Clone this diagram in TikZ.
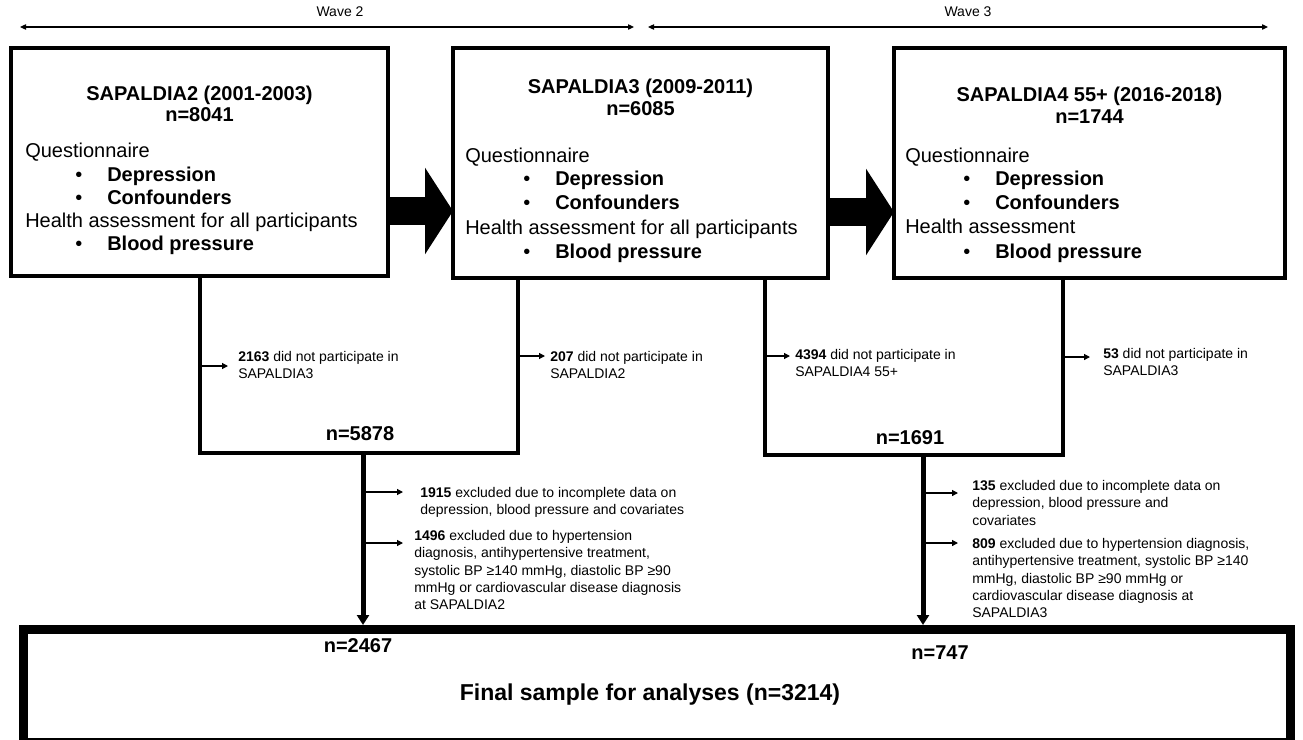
\documentclass[tikz,border=0pt]{standalone}
\usepackage{fontspec}
\setmainfont{Liberation Sans}
\usetikzlibrary{arrows.meta,fit,calc}
\begin{document}
\begin{tikzpicture}[x=0.75pt,y=-0.75pt,
  frame/.style={draw, line width=3pt, inner sep=0pt, outer sep=0pt},
  frameline/.style={line width=3pt},
  titlet/.style={font=\fontsize{15}{18}\selectfont\bfseries, anchor=base, inner sep=0pt},
  bodyt/.style={font=\fontsize{15}{18}\selectfont, anchor=base west, inner sep=0pt},
  itemt/.style={font=\fontsize{15}{18}\selectfont\bfseries, anchor=base west, inner sep=0pt},
  nlab/.style={font=\fontsize{15}{18}\selectfont\bfseries, anchor=base, inner sep=0pt},
  smallt/.style={font=\fontsize{10.5}{13}\selectfont, align=left, anchor=north west, inner sep=0pt},
  wavet/.style={font=\fontsize{10.5}{12}\selectfont, inner sep=0pt},
  sarrow/.style={-{Triangle[length=4.5pt,width=4.5pt]}, line width=0.9pt},
  varrow/.style={-{Triangle[length=7.5pt,width=9pt]}, line width=3.75pt},
  warrow/.style={{Triangle[length=4.5pt,width=4pt]}-{Triangle[length=4.5pt,width=4pt]}, line width=0.9pt},
  bigarrow/.style={-{Triangle[length=21pt,width=64pt]}, line width=21pt}
]
\useasboundingbox (0,0) rectangle (1303,739);

% wave arrows
\coordinate (w2l) at (20,27); \coordinate (w2r) at (634,27);
\coordinate (w3l) at (648,27); \coordinate (w3r) at (1268,27);
\draw[warrow] (w2l) -- (w2r);
\draw[warrow] (w3l) -- (w3r);
\node[wavet] (wave2) at (340,12) {Wave 2};
\node[wavet] (wave3) at (968,12) {Wave 3};

% upper boxes
\node[frame, fit={(11,48) (388,276)}] (b1) {};
\node[frame, fit={(453,48) (828,278)}] (b2) {};
\node[frame, fit={(894,48) (1285,278)}] (b3) {};

% box 1 text
\node[titlet] (b1t) at (199.5,100) {SAPALDIA2 (2001-2003)};
\node[titlet] (b1n) at (199.5,121) {n=8041};
\node[bodyt] (b1q) at (25,157) {Questionnaire};
\node[itemt] (b1d) at (75,181) {\makebox[24pt][l]{\mdseries\textbullet}Depression};
\node[itemt] (b1c) at (75,204) {\makebox[24pt][l]{\mdseries\textbullet}Confounders};
\node[bodyt] (b1h) at (25,227) {Health assessment for all participants};
\node[itemt] (b1b) at (75,250) {\makebox[24pt][l]{\mdseries\textbullet}Blood pressure};

% box 2 text
\node[titlet] (b2t) at (640.5,93) {SAPALDIA3 (2009-2011)};
\node[titlet] (b2n) at (640.5,115) {n=6085};
\node[bodyt] (b2q) at (465,162) {Questionnaire};
\node[itemt] (b2d) at (523,185) {\makebox[24pt][l]{\mdseries\textbullet}Depression};
\node[itemt] (b2c) at (523,209) {\makebox[24pt][l]{\mdseries\textbullet}Confounders};
\node[bodyt] (b2h) at (465,234) {Health assessment for all participants};
\node[itemt] (b2b) at (523,258) {\makebox[24pt][l]{\mdseries\textbullet}Blood pressure};

% box 3 text
\node[titlet] (b3t) at (1089.5,101) {SAPALDIA4 55+ (2016-2018)};
\node[titlet] (b3n) at (1089.5,123) {n=1744};
\node[bodyt] (b3q) at (905,162) {Questionnaire};
\node[itemt] (b3d) at (963,185) {\makebox[24pt][l]{\mdseries\textbullet}Depression};
\node[itemt] (b3c) at (963,209) {\makebox[24pt][l]{\mdseries\textbullet}Confounders};
\node[bodyt] (b3h) at (905,233) {Health assessment};
\node[itemt] (b3b) at (963,258) {\makebox[24pt][l]{\mdseries\textbullet}Blood pressure};

% big arrows between boxes
\coordinate (m1) at ($(b1.east)+(0,49)$);
\coordinate (m2) at ($(b2.east)+(0,49)$);
\draw[bigarrow] (m1) -- (m1 -| b2.west);
\draw[bigarrow] (m2) -- (m2 -| b3.west);

% lower box A
\coordinate (Abl) at (200,453); \coordinate (Abr) at (518,453);
\draw[frameline] (b1.south -| Abl) -- (Abl) -- (Abr) -- (b2.south -| Abr);
\node[nlab] (nA) at (360,440) {n=5878};
\node[smallt] (t2163) at (238,351) {\textbf{2163} did not participate in\\SAPALDIA3};
\coordinate (e2163) at (228,366);
\draw[sarrow] (e2163 -| Abl) -- (e2163);
\node[smallt] (t207) at (550,351) {\textbf{207} did not participate in\\SAPALDIA2};
\coordinate (e207) at (545,356);
\draw[sarrow] (e207 -| Abr) -- (e207);

% lower box B
\coordinate (Bbl) at (765,455); \coordinate (Bbr) at (1063,455);
\draw[frameline] (b2.south -| Bbl) -- (Bbl) -- (Bbr) -- (b3.south -| Bbr);
\node[nlab] (nB) at (910,444) {n=1691};
\node[smallt] (t4394) at (795,349) {\textbf{4394} did not participate in\\SAPALDIA4 55+};
\coordinate (e4394) at (790,356);
\draw[sarrow] (e4394 -| Bbl) -- (e4394);
\node[smallt] (t53) at (1103,348) {\textbf{53} did not participate in\\SAPALDIA3};
\coordinate (e53) at (1090,357);
\draw[sarrow] (e53 -| Bbr) -- (e53);

% final box
\node[draw, line width=6.75pt, inner sep=0pt, outer sep=3.375pt, fit={(23.5,629.5) (1290.5,742.5)}] (fin) {};
\node[nlab] (nf1) at (358,652) {n=2467};
\node[nlab] (nf2) at (940,659) {n=747};
\node[font=\fontsize{17.25}{20}\selectfont\bfseries, anchor=base, inner sep=0pt] (final) at (650,700) {Final sample for analyses (n=3214)};

% vertical arrows
\coordinate (dA) at (363,453);
\coordinate (dB) at (923,455);
\draw[varrow] (dA) -- (dA |- fin.north);
\draw[varrow] (dB) -- (dB |- fin.north);

% exclusions A
\coordinate (e1915) at (403,492);
\draw[sarrow] (e1915 -| dA) -- (e1915);
\node[smallt] (t1915) at (420,487) {\textbf{1915} excluded due to incomplete data on\\depression, blood pressure and covariates};
\coordinate (e1496) at (403,543);
\draw[sarrow] (e1496 -| dA) -- (e1496);
\node[smallt] (t1496) at (414,530) {\textbf{1496} excluded due to hypertension\\diagnosis, antihypertensive treatment,\\systolic BP ≥140 mmHg, diastolic BP ≥90\\mmHg or cardiovascular disease diagnosis\\at SAPALDIA2};

% exclusions B
\coordinate (e135) at (958,493);
\draw[sarrow] (e135 -| dB) -- (e135);
\node[smallt] (t135) at (972,480) {\textbf{135} excluded due to incomplete data on\\depression, blood pressure and\\covariates};
\coordinate (e809) at (958,543);
\draw[sarrow] (e809 -| dB) -- (e809);
\node[smallt] (t809) at (972,538) {\textbf{809} excluded due to hypertension diagnosis,\\antihypertensive treatment, systolic BP ≥140\\mmHg, diastolic BP ≥90 mmHg or\\cardiovascular disease diagnosis at\\SAPALDIA3};
\end{tikzpicture}
\end{document}
